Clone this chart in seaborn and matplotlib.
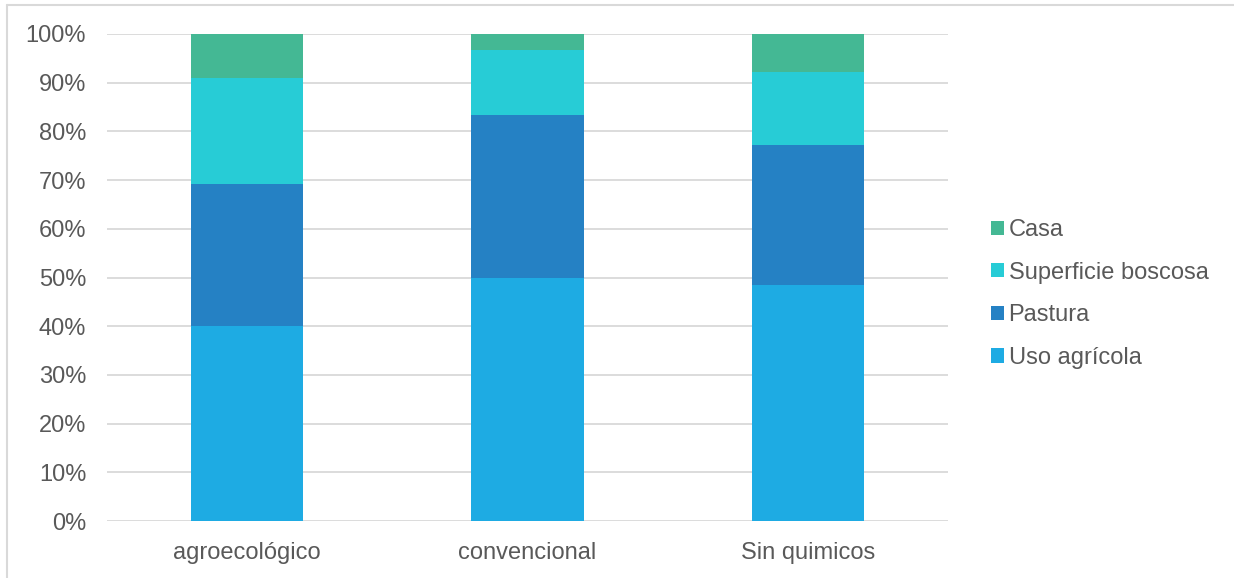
import matplotlib
matplotlib.use("Agg")
import matplotlib.pyplot as plt
from matplotlib.patches import Patch
from matplotlib.lines import Line2D
from matplotlib.ticker import PercentFormatter
import numpy as np
import pandas as pd
import seaborn as sns

# Land-use share per production system (percent of farm area)
categories = ["agroecológico", "convencional", "Sin quimicos"]
uso_agricola = [40.0, 50.0, 48.5]
pastura = [29.1, 33.3, 28.8]
superficie_boscosa = [21.8, 13.4, 14.8]
casa = [9.1, 3.3, 7.9]

series_names = ["Uso agrícola", "Pastura", "Superficie boscosa", "Casa"]
series_values = [uso_agricola, pastura, superficie_boscosa, casa]
series_colors = ["#1EABE3", "#2581C4", "#27CCD6", "#44B894"]

TEXT = "#595959"
GRID = "#D9D9D9"
FS = 17

sns.set_theme(style="white")
plt.rcParams["font.family"] = ["Liberation Sans", "DejaVu Sans"]

W, H = 1234, 578
fig = plt.figure(figsize=(W / 100, H / 100), dpi=100)
ax = fig.add_axes([107 / W, 1 - 521 / H, (948 - 107) / W, (521 - 34) / H])

# stacked bars: draw cumulative totals from the top layer down
vals = np.array(series_values) / 100.0
cum = np.cumsum(vals, axis=0)
for i in range(len(series_names) - 1, -1, -1):
    df = pd.DataFrame({"sistema": categories, "valor": cum[i]})
    sns.barplot(data=df, x="sistema", y="valor", color=series_colors[i],
                width=0.4, saturation=1, ax=ax, zorder=3, linewidth=0)

ax.set_ylim(0, 1)
ax.set_xlim(-0.5, 2.5)
ax.set_yticks(np.arange(0, 1.01, 0.1))
ax.yaxis.set_major_formatter(PercentFormatter(1.0, decimals=0))
ax.grid(axis="y", color=GRID, linewidth=1.3, zorder=0)
ax.set_axisbelow(True)
for s in ax.spines.values():
    s.set_visible(False)
ax.set_xlabel("")
ax.set_ylabel("")
ax.tick_params(axis="y", length=0, pad=15, labelsize=FS, labelcolor=TEXT)
ax.tick_params(axis="x", length=0, pad=15, labelsize=FS, labelcolor=TEXT)

handles = [Patch(facecolor=series_colors[i], edgecolor="none", label=series_names[i])
           for i in range(len(series_names) - 1, -1, -1)]
leg = fig.legend(handles=handles, loc="center left",
                 bbox_to_anchor=(979 / W, 1 - 294 / H), frameon=False,
                 fontsize=FS, handlelength=0.55, handleheight=0.55,
                 handletextpad=0.2, labelspacing=0.87, borderpad=0)
for t in leg.get_texts():
    t.set_color(TEXT)

# chart frame edges
fig.add_artist(Line2D([7 / W, 7 / W], [0, 1 - 5 / H], color=GRID, linewidth=1.5))
fig.add_artist(Line2D([7 / W, 1], [1 - 5 / H, 1 - 5 / H], color=GRID, linewidth=1.5))

fig.savefig("out.png", dpi=100, facecolor="white")
